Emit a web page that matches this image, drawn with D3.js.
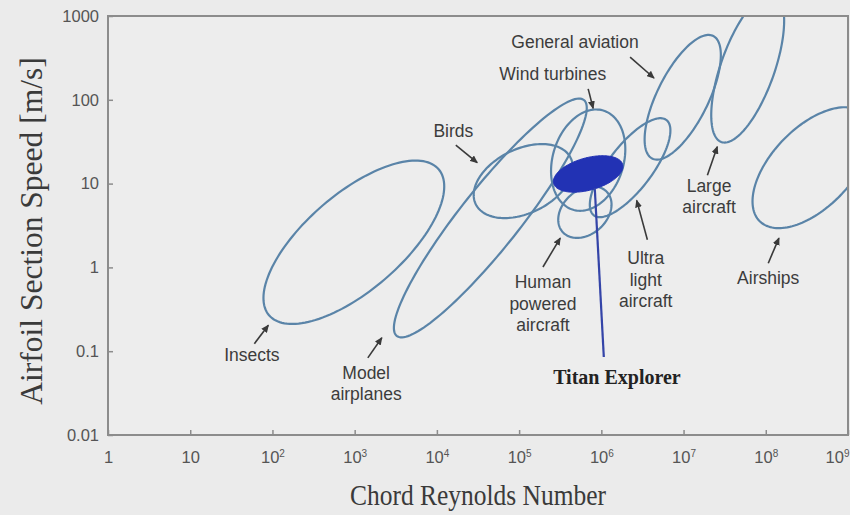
<!DOCTYPE html>
<html>
<head>
<meta charset="utf-8">
<script src="https://cdn.jsdelivr.net/npm/d3@7"></script>
<style>
  html, body { margin: 0; padding: 0; background: #ebebeb; }
  svg { display: block; }
</style>
</head>
<body>
<svg id="chart" width="850" height="515"></svg>
<script>
// ---- Flight regimes --------------------------------------------------------
// Each envelope: centre as log10(chord Reynolds number) and log10(speed, m/s),
// half-lengths of its long and short axes in decades, tilt of the long axis in degrees.
const regimes     = ["Insects", "Model airplanes", "Birds", "Wind turbines", "Human powered aircraft",
                     "Ultra light aircraft", "General aviation", "Large aircraft", "Airships"];
const centreLogRe = [2.99, 4.65, 5.05, 5.84, 5.80, 6.35, 6.99, 7.78, 8.56];
const centreLogV  = [0.30, 0.59, 1.03, 1.28, 0.66, 1.19, 2.03, 2.38, 1.19];
const halfLong    = [1.35, 1.81, 0.64, 0.62, 0.36, 0.72, 0.82, 0.94, 0.90];
const halfShort   = [0.58, 0.36, 0.385, 0.43, 0.265, 0.265, 0.31, 0.325, 0.48];
const tiltDeg     = [40, 51, 25, 72, 40, 52, 63, 70, 45];

// Titan Explorer design point (filled envelope)
const titanLogRe = 5.84, titanLogV = 1.115, titanHalfLong = 0.435, titanHalfShort = 0.193, titanTilt = 15;

// ---- Annotations (positions in log10 units) ---------------------------------
const labelLines = [["General aviation"], ["Wind turbines"], ["Birds"], ["Insects"],
                    ["Model", "airplanes"], ["Human", "powered", "aircraft"],
                    ["Ultra", "light", "aircraft"], ["Large", "aircraft"], ["Airships"]];
const labelLogRe = [5.68, 5.41, 4.20, 1.75, 3.14, 5.29, 6.54, 7.31, 8.03];
const labelLogV  = [2.62, 2.24, 1.56, -1.12, -1.33, -0.25, 0.04, 0.90, -0.20];
const arrowFrom  = [[6.35, 2.51], [5.84, 2.13], [4.23, 1.46], [1.78, -0.91], [3.16, -1.08],
                    [5.29, 0.005], [6.56, 0.33], [7.29, 1.10], [8.03, 0.05]];
const arrowTo    = [[6.64, 2.26], [5.90, 1.90], [4.49, 1.25], [1.95, -0.69], [3.33, -0.84],
                    [5.50, 0.35], [6.43, 0.80], [7.41, 1.44], [8.16, 0.35]];
const titanLabel = "Titan Explorer";
const titanLabelPos = [6.19, -1.39];
const titanLeader = [[5.92, 0.947], [6.03, -1.07]];

// ---- Axes -----------------------------------------------------------------
const xTicks = [1, 1e1, 1e2, 1e3, 1e4, 1e5, 1e6, 1e7, 1e8, 1e9];
const xTickExp = ["", "", "2", "3", "4", "5", "6", "7", "8", "9"];
const yTicks = [0.01, 0.1, 1, 10, 100, 1000];
const yTickText = ["0.01", "0.1", "1", "10", "100", "1000"];
const xTitle = "Chord Reynolds Number";
const yTitle = "Airfoil Section Speed [m/s]";

const plotL = 108, plotR = 848, plotT = 16, plotB = 435;
const x = d3.scaleLog().domain([1, 1e9]).range([plotL, plotR]);
const y = d3.scaleLog().domain([0.01, 1000]).range([plotB, plotT]);

const svg = d3.select("#chart");
const p10 = v => Math.pow(10, v);

const defs = svg.append("defs");
defs.append("clipPath").attr("id", "plotClip")
  .append("rect").attr("x", plotL).attr("y", plotT).attr("width", plotR - plotL).attr("height", plotB - plotT);

const marker = defs.append("marker")
  .attr("id", "head").attr("markerUnits", "userSpaceOnUse")
  .attr("markerWidth", 8).attr("markerHeight", 7).attr("refX", 7).attr("refY", 3.5)
  .attr("orient", "auto");
marker.append("path").attr("d", "M0,0 L8,3.5 L0,7 Z").attr("fill", "#3a3a3a");

svg.append("rect").attr("x", plotL).attr("y", plotT).attr("width", plotR - plotL).attr("height", plotB - plotT)
  .attr("fill", "#ededed");

// Envelope outline from centre/axes/tilt, mapped through the log scales
function envelope(cLx, cLy, a, b, tilt) {
  const th = tilt * Math.PI / 180, pts = [];
  for (let i = 0; i < 144; i++) {
    const t = 2 * Math.PI * i / 144;
    const lx = cLx + a * Math.cos(t) * Math.cos(th) - b * Math.sin(t) * Math.sin(th);
    const ly = cLy + a * Math.cos(t) * Math.sin(th) + b * Math.sin(t) * Math.cos(th);
    pts.push([x(p10(lx)), y(p10(ly))]);
  }
  return d3.line().curve(d3.curveLinearClosed)(pts);
}

const plot = svg.append("g").attr("clip-path", "url(#plotClip)");
plot.selectAll("path.regime").data(regimes).join("path")
  .attr("class", "regime")
  .attr("d", (d, i) => envelope(centreLogRe[i], centreLogV[i], halfLong[i], halfShort[i], tiltDeg[i]))
  .attr("fill", "none").attr("stroke", "#5a84a8").attr("stroke-width", 2.2);

plot.append("path")
  .attr("d", envelope(titanLogRe, titanLogV, titanHalfLong, titanHalfShort, titanTilt))
  .attr("fill", "#2232b4").attr("stroke", "#2232b4").attr("stroke-width", 1);

// Leader from the design point to its caption
svg.append("line")
  .attr("x1", x(p10(titanLeader[0][0]))).attr("y1", y(p10(titanLeader[0][1])))
  .attr("x2", x(p10(titanLeader[1][0]))).attr("y2", y(p10(titanLeader[1][1])))
  .attr("stroke", "#3444a8").attr("stroke-width", 2.2);

// Frame
svg.append("rect").attr("x", plotL).attr("y", plotT).attr("width", plotR - plotL).attr("height", plotB - plotT)
  .attr("fill", "none").attr("stroke", "#8c8c8c").attr("stroke-width", 2);

// Axes with inward ticks
const xAxis = svg.append("g").attr("transform", `translate(0,${plotB})`)
  .call(d3.axisBottom(x).tickValues(xTicks).tickFormat(() => "").tickSizeInner(-5).tickSizeOuter(0).tickPadding(16));
const yAxis = svg.append("g").attr("transform", `translate(${plotL},0)`)
  .call(d3.axisLeft(y).tickValues(yTicks).tickFormat((d, i) => yTickText[i]).tickSizeInner(-5).tickSizeOuter(0).tickPadding(9));
[xAxis, yAxis].forEach(g => {
  g.select(".domain").remove();
  g.selectAll(".tick line").attr("stroke", "#8c8c8c").attr("stroke-width", 1.5);
  g.selectAll(".tick text").attr("fill", "#555").attr("font-family", "'Liberation Sans', Arial, sans-serif")
    .attr("font-size", 16.5);
});
xAxis.selectAll(".tick text").each(function (d, i) {
  const t = d3.select(this);
  t.append("tspan").text(xTicks[i] === 1 ? "1" : "10");
  if (xTickExp[i]) t.append("tspan").attr("font-size", 10).attr("dy", "-0.55em").text(xTickExp[i]);
  // the last label sits against the right edge of the page
  if (i === xTicks.length - 1) t.attr("text-anchor", "end").attr("x", 1);
});

// Axis titles
svg.append("text").attr("x", (plotL + plotR) / 2).attr("y", 505)
  .attr("text-anchor", "middle").attr("font-family", "'Liberation Serif', 'Times New Roman', serif")
  .attr("font-size", 30).attr("textLength", 256).attr("lengthAdjust", "spacingAndGlyphs")
  .attr("fill", "#3a3a3a").text(xTitle);
svg.append("text").attr("transform", `translate(42,231) rotate(-90)`)
  .attr("text-anchor", "middle").attr("font-family", "'Liberation Serif', 'Times New Roman', serif")
  .attr("font-size", 31.5).attr("fill", "#3a3a3a").text(yTitle);

// Regime labels and arrows
const ann = svg.append("g");
labelLines.forEach((lines, i) => {
  const t = ann.append("text")
    .attr("x", x(p10(labelLogRe[i]))).attr("y", y(p10(labelLogV[i])))
    .attr("text-anchor", "middle").attr("font-family", "'Liberation Sans', Arial, sans-serif")
    .attr("font-size", 17.5).attr("fill", "#3c3c3c");
  lines.forEach((s, k) => t.append("tspan").attr("x", x(p10(labelLogRe[i]))).attr("dy", k ? 21.5 : 0).text(s));
  ann.append("line")
    .attr("x1", x(p10(arrowFrom[i][0]))).attr("y1", y(p10(arrowFrom[i][1])))
    .attr("x2", x(p10(arrowTo[i][0]))).attr("y2", y(p10(arrowTo[i][1])))
    .attr("stroke", "#3a3a3a").attr("stroke-width", 1.6).attr("marker-end", "url(#head)");
});

ann.append("text").attr("x", x(p10(titanLabelPos[0]))).attr("y", y(p10(titanLabelPos[1])))
  .attr("text-anchor", "middle").attr("font-family", "'Liberation Serif', 'Times New Roman', serif")
  .attr("font-weight", "bold").attr("font-size", 20).attr("fill", "#222").text(titanLabel);
</script>
</body>
</html>
